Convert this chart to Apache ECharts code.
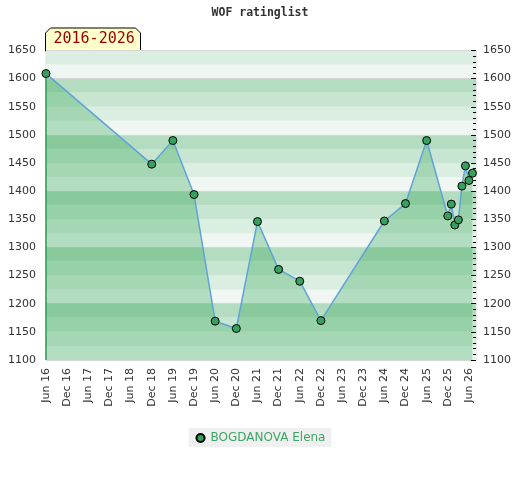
<!DOCTYPE html>
<html>
<head>
<meta charset="utf-8">
<script src="https://cdn.jsdelivr.net/npm/echarts@6/dist/echarts.min.js"></script>
<style>
html,body{margin:0;padding:0;background:#fff;}
#chart{width:520px;height:480px;}
</style>
</head>
<body>
<div id="chart"></div>
<script>
// ---- data ----
const playerName = 'BOGDANOVA Elena';
const chartTitle = 'WOF ratinglist';
const periodLabel = '2016-2026';
const dates = ['2016-06','2018-12','2019-06','2019-12','2020-06','2020-12','2021-06','2021-12','2022-06','2022-12','2024-06','2024-12','2025-06','2025-12','2026-01','2026-02','2026-03','2026-04','2026-05','2026-06','2026-07'];
const ratings = [1609,1448,1490,1394,1169,1156,1346,1261,1240,1170,1347,1378,1490,1356,1377,1340,1349,1409,1445,1419,1432];
const monthNames = ['Jan','Feb','Mar','Apr','May','Jun','Jul','Aug','Sep','Oct','Nov','Dec'];
const xMinMonth = 0;     // Jun 2016
const xMaxMonth = 122;   // Aug 2026
const yMin = 1100, yMax = 1650;
const bandColors = ['#f0f7f2','#dbeee2','#c7e5d1','#b3dcc0'];

function toIdx(s){ const p = s.split('-'); return (+p[0]-2016)*12 + (+p[1]-6); }
function idxLabel(m){ const t = 5 + m; return monthNames[((t%12)+12)%12] + ' ' + String(16 + Math.floor(t/12)).padStart(2,'0'); }
const seriesData = dates.map((d,i)=>[toIdx(d), ratings[i]]);

const chart = echarts.init(document.getElementById('chart'));
const font = 'DejaVu Sans';
const G = {left:46, right:44, top:50.5, bottom:120};
const plain = v => String(v);
chart.setOption({
  animation:false,
  backgroundColor:'#fff',
  title:{text:chartTitle,left:'center',top:2,textStyle:{fontFamily:'DejaVu Sans Mono',fontWeight:'bold',fontSize:11.5,color:'#333'}},
  grid:{left:G.left,right:G.right,top:G.top,bottom:G.bottom,show:true,borderColor:'#d9d9d9',borderWidth:1,backgroundColor:'transparent'},
  graphic:[{
    type:'group', left:45, top:27.5, children:[
      {type:'polygon', shape:{points:[[0,5],[5,0],[90,0],[95,5],[95,23],[0,23]]}, style:{fill:'#ffffcc',stroke:'#000',lineWidth:1}},
      {type:'text', left:8, top:3.5, style:{text:periodLabel,fontFamily:'DejaVu Sans Mono',fontSize:15,fill:'#990000'}}
    ]
  }],
  legend:{bottom:33,left:'center',data:[playerName],backgroundColor:'#f0f0f0',padding:[4,6,3,6],itemWidth:10,itemHeight:10,itemGap:6,
    textStyle:{color:'#3aa862',fontFamily:font,fontSize:12}},
  xAxis:{type:'value',min:xMinMonth,max:xMaxMonth,interval:6,
    axisLine:{show:false},axisTick:{show:false},splitLine:{show:false},
    axisLabel:{rotate:90,margin:8,fontFamily:font,fontSize:11,color:'#333',showMaxLabel:false,
      formatter:function(v){ return (v%6===0)? idxLabel(v):''; }}},
  yAxis:[
    {type:'value',position:'left',min:yMin,max:yMax,interval:50,
      axisLine:{show:false},axisTick:{show:false},splitLine:{show:false},
      axisLabel:{margin:10,fontFamily:font,fontSize:11,color:'#333',formatter:plain}},
    {type:'value',position:'right',min:yMin,max:yMax,interval:50,
      axisLine:{show:false},axisTick:{show:true,inside:true,length:5,lineStyle:{color:'#000'}},
      minorTick:{show:true,splitNumber:5,length:3,lineStyle:{color:'#000'}},
      splitLine:{show:false},
      axisLabel:{margin:7,fontFamily:font,fontSize:11,color:'#333',formatter:plain}},
    {type:'value',show:true,position:'left',min:yMin,max:yMax,interval:25,
      axisLine:{show:false},axisTick:{show:false},axisLabel:{show:false},splitLine:{show:false},
      splitArea:{show:true,areaStyle:{color:bandColors}}},
    {type:'value',show:true,position:'left',min:yMin,max:yMax,interval:100,
      axisLine:{show:false},axisTick:{show:false},axisLabel:{show:false},
      splitLine:{show:true,lineStyle:{color:'#d6d6d6',width:1}}}
  ],
  series:[{
    name:playerName,type:'line',yAxisIndex:0,data:seriesData,
    symbol:'circle',symbolSize:8,
    itemStyle:{color:'#36a05f',borderColor:'#000',borderWidth:1},
    lineStyle:{color:'#5fa3d9',width:1.5},
    areaStyle:{color:'rgba(44,163,79,0.44)',origin:'start'},
    markLine:{silent:true,symbol:'none',label:{show:false},lineStyle:{color:'#2f9a55',width:1.5,type:'solid'},
      data:[[{coord:[seriesData[0][0],yMin]},{coord:seriesData[0]}]]},
    z:5
  }]
});
</script>
</body>
</html>
